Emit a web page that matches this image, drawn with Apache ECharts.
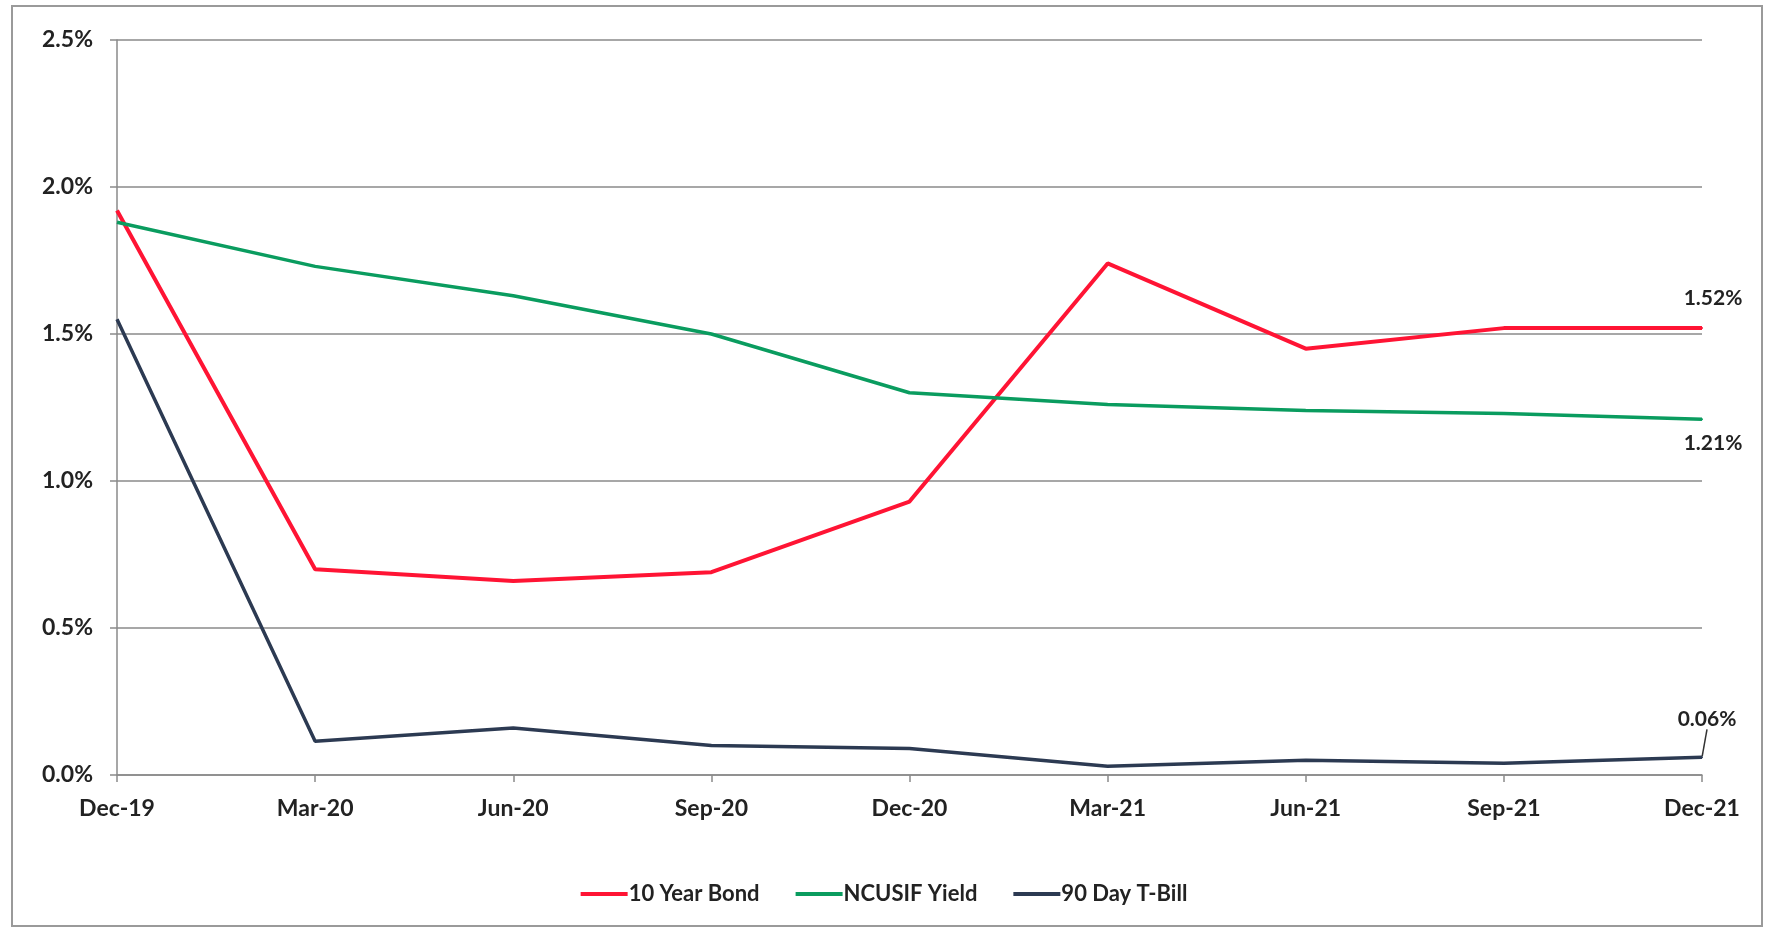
<!DOCTYPE html>
<html>
<head>
<meta charset="utf-8">
<script src="https://cdn.jsdelivr.net/npm/echarts@6/dist/echarts.min.js"></script>
<style>
  html, body { margin: 0; padding: 0; background: #fff; }
  #chart { width: 1768px; height: 929px; }
</style>
</head>
<body>
<div id="chart"></div>
<script>
// quarter labels
var quarters = ["Dec-19", "Mar-20", "Jun-20", "Sep-20", "Dec-20", "Mar-21", "Jun-21", "Sep-21", "Dec-21"];
// yields in percent
var bond10 = [1.92, 0.70, 0.66, 0.69, 0.93, 1.74, 1.45, 1.52, 1.52];
var ncusif = [1.88, 1.73, 1.63, 1.50, 1.30, 1.26, 1.24, 1.23, 1.21];
var tbill90 = [1.55, 0.115, 0.16, 0.10, 0.09, 0.03, 0.05, 0.04, 0.06];
var yTicks = [0, 0.5, 1.0, 1.5, 2.0, 2.5];

var fontName = "Lato";
var txt = { fontFamily: fontName, fontSize: 21, fontWeight: "bold", color: "#222" };
var last = quarters.length - 1;

// only the last point gets a symbol (tiny) and a value label
function withEndLabel(arr, lbl) {
    return arr.map(function (v, i) {
        if (i === last) {
            return { value: v, symbol: "circle", symbolSize: 2, label: lbl };
        }
        return v;
    });
}

var pctFmt = function (p) { return p.value.toFixed(2) + "%"; };

var chart = echarts.init(document.getElementById("chart"));
chart.setOption({
    animation: false,
    backgroundColor: "#fff",
    graphic: [{
        type: "rect",
        shape: { x: 12, y: 6, width: 1750, height: 920 },
        style: { fill: "none", stroke: "#9a9a9a", lineWidth: 2 },
        silent: true
    }],
    grid: { left: 117, right: 66, top: 40, bottom: 154 },
    legend: {
        bottom: 19,
        left: "center",
        icon: "rect",
        itemWidth: 47,
        itemHeight: 4,
        itemGap: 36,
        textStyle: Object.assign({}, txt, { fontSize: 22, padding: [0, 0, 0, -4] }),
        data: ["10 Year Bond", "NCUSIF Yield", "90 Day T-Bill"]
    },
    xAxis: {
        type: "category",
        data: quarters,
        boundaryGap: false,
        axisLine: { lineStyle: { color: "#8a8a8a", width: 1.5 } },
        axisTick: { show: true, length: 7, lineStyle: { color: "#8a8a8a", width: 1.5 } },
        axisLabel: Object.assign({}, txt, { fontSize: 23, margin: 22 })
    },
    yAxis: {
        type: "value",
        min: yTicks[0],
        max: yTicks[yTicks.length - 1],
        interval: 0.5,
        axisLine: { show: true, lineStyle: { color: "#8a8a8a", width: 1.5 } },
        axisTick: { show: true, length: 7, lineStyle: { color: "#8a8a8a", width: 1.5 } },
        splitLine: { lineStyle: { color: "#8a8a8a", width: 1.5 } },
        axisLabel: Object.assign({}, txt, {
            fontSize: 23,
            margin: 24,
            formatter: function (v) { return v.toFixed(1) + "%"; }
        })
    },
    series: [
        {
            name: "10 Year Bond",
            type: "line",
            symbol: "none",
            color: "#ff1434",
            lineStyle: { width: 4 },
            data: withEndLabel(bond10, Object.assign({
                show: true, position: "top", offset: [11, -13], formatter: pctFmt
            }, txt))
        },
        {
            name: "NCUSIF Yield",
            type: "line",
            symbol: "none",
            color: "#0a9c5f",
            lineStyle: { width: 3.5 },
            data: withEndLabel(ncusif, Object.assign({
                show: true, position: "bottom", offset: [11, 7], formatter: pctFmt
            }, txt))
        },
        {
            name: "90 Day T-Bill",
            type: "line",
            symbol: "none",
            color: "#2c3a52",
            lineStyle: { width: 3.5 },
            labelLine: { show: true, lineStyle: { color: "#333", width: 1.5 } },
            labelLayout: { dx: 5, dy: -22 },
            data: withEndLabel(tbill90, Object.assign({
                show: true, position: "top", formatter: pctFmt
            }, txt))
        }
    ]
});
</script>
</body>
</html>
